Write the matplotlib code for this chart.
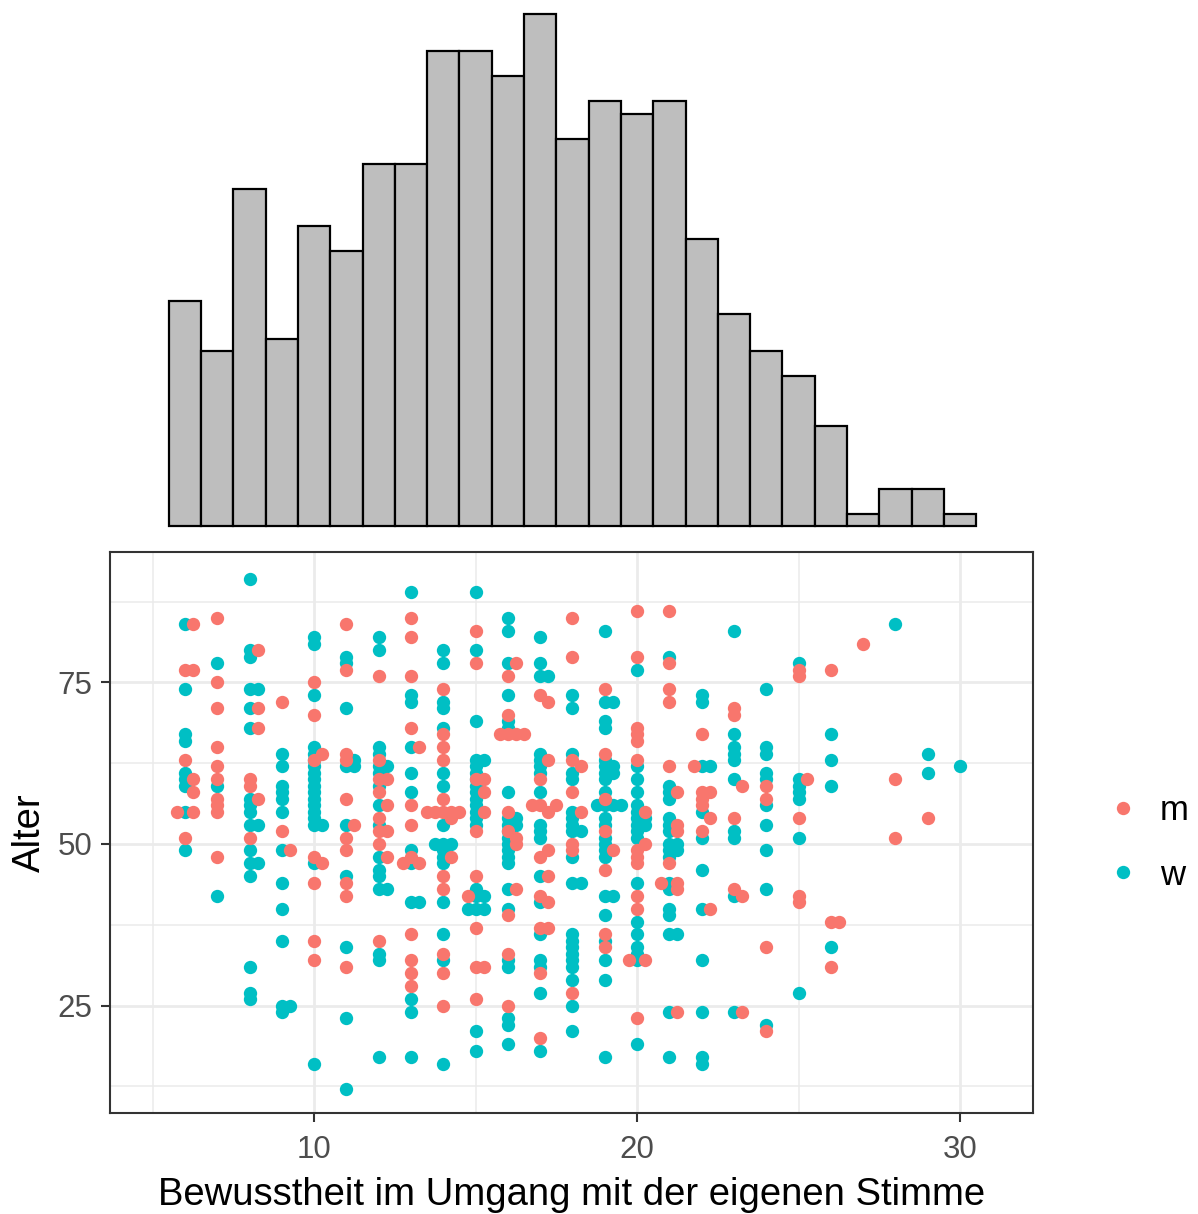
import matplotlib
matplotlib.use("Agg")
import matplotlib.pyplot as plt
from matplotlib.lines import Line2D

plt.rcParams['font.family'] = ['Liberation Sans', 'DejaVu Sans']

# ---------------- data ----------------
# marginal histogram (bin centres and counts)
hist_centers = [6, 7, 8, 9, 10, 11, 12, 13, 14, 15, 16, 17, 18, 19, 20,
                21, 22, 23, 24, 25, 26, 27, 28, 29, 30]
hist_counts = [18, 14, 27, 15, 24, 22, 29, 29, 38, 38, 36, 41, 31, 34, 33,
               34, 23, 17, 14, 12, 8, 1, 3, 3, 1]

# group "m"
m_x = [5.75,
       6, 6, 6,
       6.25, 6.25, 6.25, 6.25, 6.25,
       7, 7, 7, 7, 7, 7, 7, 7, 7, 7,
       8, 8, 8,
       8.25, 8.25, 8.25, 8.25,
       9, 9,
       9.25,
       10, 10, 10, 10, 10, 10, 10,
       10.25, 10.25,
       11, 11, 11, 11, 11, 11, 11, 11, 11, 11,
       11.25,
       12, 12, 12, 12, 12, 12, 12, 12,
       12.25, 12.25, 12.25, 12.25,
       12.75,
       13, 13, 13, 13, 13, 13, 13, 13, 13, 13, 13,
       13.25, 13.25,
       13.5, 13.75,
       14, 14, 14, 14, 14, 14, 14, 14, 14, 14, 14,
       14.25, 14.25, 14.25,
       14.5, 14.75,
       15, 15, 15, 15, 15, 15, 15, 15,
       15.25, 15.25, 15.25, 15.25,
       15.75,
       16, 16, 16, 16, 16, 16, 16, 16,
       16.25, 16.25, 16.25, 16.25, 16.25,
       16.5, 16.75,
       17, 17, 17, 17, 17, 17, 17, 17,
       17.25, 17.25, 17.25, 17.25, 17.25, 17.25, 17.25,
       17.5,
       18, 18, 18, 18, 18, 18, 18,
       18.25, 18.25,
       19, 19, 19, 19, 19, 19, 19,
       19.25, 19.75,
       20, 20, 20, 20, 20, 20, 20, 20, 20, 20, 20, 20,
       20.25, 20.25, 20.25,
       20.75,
       21, 21, 21, 21, 21, 21,
       21.25, 21.25, 21.25, 21.25, 21.25, 21.25,
       21.75,
       22, 22, 22, 22, 22,
       22.25, 22.25, 22.25,
       23, 23, 23, 23,
       23.25, 23.25, 23.25,
       24, 24, 24, 24,
       25, 25, 25, 25, 25,
       25.25,
       26, 26, 26,
       26.25, 27, 28, 28, 29]
m_y = [55,
       77, 63, 51,
       84, 77, 60, 58, 55,
       85, 75, 71, 65, 62, 60, 57, 56, 55, 48,
       60, 59, 51,
       80, 71, 68, 57,
       72, 52,
       49,
       75, 70, 63, 48, 44, 35, 32,
       64, 47,
       84, 77, 64, 63, 57, 51, 49, 44, 42, 31,
       53,
       76, 63, 60, 58, 54, 52, 50, 35,
       60, 56, 52, 48,
       47,
       85, 82, 76, 68, 56, 53, 48, 36, 32, 30, 28,
       65, 47,
       55, 55,
       74, 67, 65, 63, 57, 55, 45, 43, 33, 30, 25,
       55, 54, 48,
       55, 42,
       83, 78, 60, 52, 45, 37, 31, 26,
       60, 58, 55, 31,
       67,
       76, 70, 67, 55, 52, 39, 33, 25,
       78, 67, 51, 50, 43,
       67, 56,
       73, 60, 56, 48, 42, 37, 30, 20,
       72, 63, 55, 49, 45, 41, 37,
       56,
       85, 79, 63, 58, 50, 49, 27,
       62, 55,
       74, 64, 57, 52, 46, 36, 34,
       49, 32,
       86, 79, 68, 67, 66, 63, 49, 48, 47, 42, 40, 23,
       55, 50, 32,
       44,
       86, 78, 74, 72, 62, 47,
       58, 53, 52, 44, 43, 24,
       62,
       67, 58, 57, 56, 52,
       58, 54, 40,
       71, 70, 54, 43,
       59, 42, 24,
       59, 57, 34, 21,
       77, 76, 54, 42, 41,
       60,
       77, 38, 31,
       38, 81, 60, 51, 54]

# group "w"
w_x = [6, 6, 6, 6, 6, 6, 6, 6, 6,
       7, 7, 7,
       8, 8, 8, 8, 8, 8, 8, 8, 8, 8, 8, 8, 8, 8, 8, 8,
       8.25, 8.25, 8.25,
       9, 9, 9, 9, 9, 9, 9, 9, 9, 9, 9, 9,
       9.25,
       10, 10, 10, 10, 10, 10, 10, 10, 10, 10, 10, 10, 10, 10, 10, 10, 10, 10,
       10.25,
       11, 11, 11, 11, 11, 11, 11, 11, 11,
       11.25, 11.25,
       12, 12, 12, 12, 12, 12, 12, 12, 12, 12, 12, 12, 12, 12, 12, 12,
       12.25, 12.25,
       13, 13, 13, 13, 13, 13, 13, 13, 13, 13, 13, 13,
       13.25, 13.75,
       14, 14, 14, 14, 14, 14, 14, 14, 14, 14, 14, 14, 14, 14, 14, 14,
       14.25, 14.75,
       15, 15, 15, 15, 15, 15, 15, 15, 15, 15, 15, 15, 15, 15, 15, 15, 15, 15, 15,
       15.25, 15.25, 15.25,
       16, 16, 16, 16, 16, 16, 16, 16, 16, 16, 16, 16, 16, 16, 16, 16, 16, 16, 16, 16, 16, 16,
       16.25, 16.25,
       17, 17, 17, 17, 17, 17, 17, 17, 17, 17, 17, 17, 17, 17, 17, 17, 17, 17,
       17.25,
       18, 18, 18, 18, 18, 18, 18, 18, 18, 18, 18, 18, 18, 18, 18, 18, 18, 18, 18, 18,
       18.25, 18.25,
       18.75,
       19, 19, 19, 19, 19, 19, 19, 19, 19, 19, 19, 19, 19, 19, 19, 19, 19, 19, 19, 19, 19, 19,
       19.25, 19.25, 19.25, 19.25, 19.25,
       19.5,
       20, 20, 20, 20, 20, 20, 20, 20, 20, 20, 20, 20, 20, 20, 20, 20, 20,
       20.25, 20.25,
       21, 21, 21, 21, 21, 21, 21, 21, 21, 21, 21, 21, 21, 21, 21, 21, 21,
       21.25, 21.25, 21.25,
       22, 22, 22, 22, 22, 22, 22, 22, 22, 22, 22,
       22.25,
       23, 23, 23, 23, 23, 23, 23, 23, 23, 23,
       24, 24, 24, 24, 24, 24, 24, 24, 24, 24,
       25, 25, 25, 25, 25, 25, 25,
       26, 26, 26, 26,
       28, 29, 29, 30]
w_y = [84, 74, 67, 66, 61, 60, 59, 55, 49,
       78, 59, 42,
       91, 80, 79, 74, 71, 68, 57, 56, 55, 53, 49, 47, 45, 31, 27, 26,
       74, 53, 47,
       64, 62, 59, 58, 57, 55, 49, 44, 40, 35, 25, 24,
       25,
       82, 81, 73, 65, 64, 63, 62, 61, 60, 59, 58, 57, 56, 55, 54, 53, 47, 16,
       53,
       79, 78, 71, 62, 53, 45, 34, 23, 12,
       63, 62,
       82, 80, 65, 64, 62, 61, 59, 56, 53, 48, 46, 45, 43, 33, 32, 17,
       62, 43,
       89, 73, 72, 65, 61, 58, 49, 47, 41, 26, 24, 17,
       41, 50,
       80, 78, 72, 71, 68, 61, 59, 53, 50, 49, 48, 47, 41, 36, 32, 16,
       50, 40,
       89, 80, 69, 63, 62, 61, 60, 59, 58, 57, 56, 55, 54, 53, 43, 42, 40, 21, 18,
       63, 42, 40,
       85, 83, 78, 73, 69, 68, 58, 54, 53, 52, 51, 50, 49, 48, 47, 43, 40, 32, 31, 23, 22, 19,
       54, 53,
       82, 78, 76, 64, 63, 62, 61, 58, 53, 52, 51, 45, 41, 36, 32, 31, 27, 18,
       76,
       73, 71, 64, 61, 60, 55, 54, 53, 52, 48, 44, 36, 35, 34, 33, 32, 31, 29, 25, 21,
       52, 44,
       56,
       83, 72, 69, 68, 63, 62, 61, 60, 58, 56, 54, 53, 51, 50, 49, 48, 42, 39, 35, 32, 29, 17,
       72, 62, 61, 56, 42,
       56,
       77, 62, 60, 58, 56, 55, 54, 53, 52, 51, 44, 38, 36, 34, 33, 32, 19,
       54, 53,
       79, 59, 58, 57, 54, 53, 52, 50, 49, 48, 44, 43, 40, 39, 36, 24, 17,
       50, 49, 36,
       73, 72, 62, 55, 51, 46, 40, 32, 24, 17, 16,
       62,
       83, 67, 65, 64, 63, 60, 52, 51, 42, 24,
       74, 65, 64, 61, 60, 56, 53, 49, 43, 22,
       78, 60, 59, 58, 57, 51, 27,
       67, 63, 59, 34,
       84, 64, 61, 62]

group_labels = ['m', 'w']
group_colors = ['#F8766D', '#00BFC4']
x_label = 'Bewusstheit im Umgang mit der eigenen Stimme'
y_label = 'Alter'
x_ticks = [10, 20, 30]
y_ticks = [25, 50, 75]

# ---------------- layout ----------------
W, H = 1198, 1214
fig = plt.figure(figsize=(W / 100, H / 100), dpi=100)
fig.patch.set_facecolor('white')

x_lim = (3.68, 32.26)
y_lim = (8.36, 95.2)

ax = fig.add_axes([110 / W, 1 - 1113 / H, (1033 - 110) / W, (1113 - 552) / H])
axh = fig.add_axes([110 / W, 1 - 526 / H, (1033 - 110) / W, (526 - 14) / H])

# scatter
ax.scatter(w_x, w_y, s=92, c=group_colors[1], linewidths=0, zorder=3)
ax.scatter(m_x, m_y, s=92, c=group_colors[0], linewidths=0, zorder=3)

ax.set_xlim(*x_lim)
ax.set_ylim(*y_lim)
ax.set_xticks(x_ticks)
ax.set_xticks([5, 15, 25], minor=True)
ax.set_yticks(y_ticks)
ax.set_yticks([12.5, 37.5, 62.5, 87.5], minor=True)
ax.grid(which='major', color='#EBEBEB', linewidth=2.0, zorder=0)
ax.grid(which='minor', color='#EBEBEB', linewidth=1.1, zorder=0)
ax.set_axisbelow(True)
for sp in ax.spines.values():
    sp.set_color('#333333')
    sp.set_linewidth(1.5)
ax.tick_params(which='major', length=6.5, width=1.5, color='#333333',
               labelsize=22.5, labelcolor='#4D4D4D', pad=6)
ax.tick_params(axis='x', which='major', pad=9)
ax.tick_params(which='minor', length=0)
ax.set_xlabel(x_label, fontsize=27.5, color='black', labelpad=9)
ax.set_ylabel(y_label, fontsize=27.5, color='black', labelpad=7)

# legend
handles = [Line2D([], [], marker='o', linestyle='', markersize=9.6,
                  markerfacecolor=c, markeredgewidth=0) for c in group_colors]
fig.legend(handles, group_labels, loc='center left',
           bbox_to_anchor=(1113 / W, 1 - 843 / H), frameon=False,
           fontsize=25, handletextpad=0.75, labelspacing=0.9,
           handlelength=0.6, borderpad=0, borderaxespad=0)

# marginal histogram
bars = axh.bar(hist_centers, hist_counts, width=1.0, color='#BEBEBE',
               edgecolor='black', linewidth=1.6)
for b in bars:
    b.set_clip_on(False)
axh.set_xlim(*x_lim)
axh.set_ylim(0, max(hist_counts))
axh.axis('off')

fig.savefig('out.png', dpi=100, facecolor='white')
